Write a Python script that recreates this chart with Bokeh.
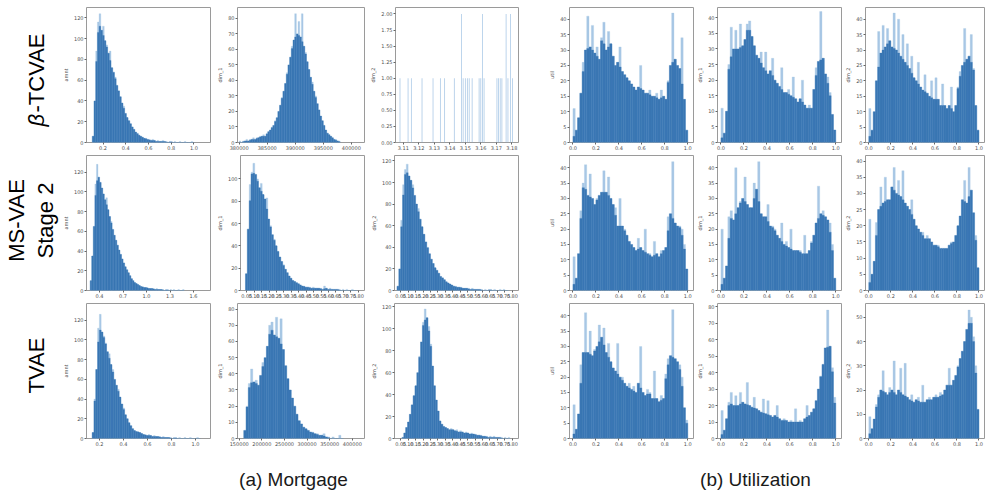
import numpy as np
from bokeh.plotting import figure
from bokeh.models import Range1d, FixedTicker, Label, Spacer
from bokeh.layouts import row, column
from bokeh.embed import file_html
from bokeh.resources import INLINE
from bokeh.core.properties import value

# ---------------------------------------------------------------- data
row_titles = ["β", "-TCVAE", "MS-VAE", "Stage 2", "TVAE"]
captions = ["(a) Mortgage", "(b) Utilization"]

mort_ylabels = ["amnt", "dim_1", "dim_2"]
util_ylabels = ["util", "dim_1", "dim_2"]

# --- Mortgage, beta-TCVAE
m1_r1_x0, m1_r1_bw = 0.105, 0.015
m1_r1_h = [6, 40, 88, 116, 124, 108, 112, 98, 94, 86, 88, 72, 68, 63, 55, 50, 44, 38, 35, 28,
           24, 21, 18, 15, 13, 10, 9, 7, 6, 5, 4, 4, 3, 3, 2, 3, 2, 1, 2, 1,
           1, 2, 1, 1, 0, 1, 1, 0, 1, 0, 0, 1, 0, 0, 1, 0, 0, 0, 1, 0]
m1_r1_ticks = [0.2, 0.4, 0.6, 0.8, 1.0]
m1_r1_labels = ["0.2", "0.4", "0.6", "0.8", "1.0"]

m2_r1_x0, m2_r1_bw = 0.0, 0.06
m2_r1_h = [1, 0, 1, 1, 2, 1, 2, 2, 3, 2, 3, 3, 4, 4, 5, 4, 6, 7, 8, 10,
           11, 14, 16, 20, 24, 29, 33, 38, 45, 50, 55, 62, 66, 83, 70, 78, 68, 83, 62, 58,
           52, 47, 42, 39, 33, 30, 25, 21, 17, 14, 11, 8, 6, 5, 4, 3, 2, 2, 1, 1]
m2_r1_ticks = [0, 1, 2, 3, 4]
m2_r1_labels = ["380000", "385000", "390000", "395000", "400000"]

m3_r1_x = [3.1079, 3.1131, 3.1152, 3.1221, 3.1292, 3.1339, 3.1367, 3.1429, 3.1475, 3.1486,
           3.1500, 3.1513, 3.1525, 3.1544, 3.1589, 3.1600, 3.1611, 3.1621, 3.1704, 3.1714,
           3.1725, 3.1736, 3.1763, 3.1775, 3.1792, 3.1804]
m3_r1_h = [1, 1, 1, 1, 1, 1, 1, 1, 2, 1, 1, 1, 1, 1, 1, 1, 2, 1, 1, 1, 1, 1, 2, 1, 2, 1]
m3_r1_ticks = [3.11, 3.12, 3.13, 3.14, 3.15, 3.16, 3.17, 3.18]
m3_r1_yticks = [0, 0.25, 0.5, 0.75, 1.0, 1.25, 1.5, 1.75, 2.0]
m3_r1_ylabels = ["0.00", "0.25", "0.50", "0.75", "1.00", "1.25", "1.50", "1.75", "2.00"]

# --- Mortgage, MS-VAE stage 2
m1_r2_x0, m1_r2_bw = 0.28, 0.02
m1_r2_h = [10, 35, 65, 108, 128, 115, 110, 104, 98, 92, 94, 82, 75, 70, 62, 56, 51, 46, 41, 37,
           32, 28, 24, 21, 18, 15, 12, 10, 8, 7, 6, 5, 4, 4, 3, 3, 3, 2, 2, 2,
           2, 1, 2, 1, 1, 1, 1, 0, 1, 1, 0, 1, 0, 1, 0, 0, 1, 0, 0, 1]
m1_r2_ticks = [0.4, 0.7, 1.0, 1.3, 1.6]
m1_r2_labels = ["0.4", "0.7", "1.0", "1.3", "1.6"]

m2_r2_x0, m2_r2_bw = 0.4, 0.15
m2_r2_h = [15, 55, 95, 106, 114, 104, 100, 92, 96, 86, 82, 83, 64, 58, 50, 46, 40, 35, 30, 26,
           23, 19, 16, 13, 11, 9, 8, 7, 6, 5, 4, 4, 3, 3, 3, 2, 3, 2, 2, 2,
           2, 1, 4, 2, 1, 2, 1, 1, 1, 1, 1, 0, 1, 0, 1, 0, 0, 1, 0, 0]

m3_r2_x0, m3_r2_bw = 0.2, 0.15
m3_r2_h = [4, 20, 65, 98, 112, 117, 106, 102, 98, 88, 80, 76, 66, 59, 52, 45, 40, 34, 29, 25,
           21, 19, 16, 13, 12, 10, 8, 7, 6, 5, 4, 4, 3, 3, 3, 2, 2, 2, 2, 1,
           2, 1, 1, 1, 1, 1, 0, 1, 0, 1, 1, 0, 1, 0, 0, 1, 0, 1, 0, 0]

dense_ticks = [0.5, 1.1, 1.7, 2.3, 2.9, 3.5, 4.1, 4.7, 5.3, 5.9, 6.5, 7.1, 7.7, 8.3, 8.9, 9.5]
dense_labels = ["0.05", "0.10", "0.15", "0.20", "0.25", "0.30", "0.35", "0.40",
                "0.45", "0.50", "0.55", "0.60", "0.65", "0.70", "0.75", "0.80"]

# --- Mortgage, TVAE
m1_r3_x0, m1_r3_bw = 0.14, 0.015
m1_r3_h = [6, 40, 70, 112, 126, 108, 104, 97, 88, 86, 75, 70, 60, 54, 50, 42, 35, 31, 24, 20,
           16, 13, 10, 8, 7, 7, 6, 5, 4, 4, 3, 4, 3, 2, 3, 2, 2, 2, 1, 2,
           1, 1, 1, 1, 0, 1, 1, 0, 1, 0, 0, 1, 0, 0, 1, 0, 0, 0, 1, 0]
m1_r3_ticks = [0.2, 0.4, 0.6, 0.8, 1.0]
m1_r3_labels = ["0.2", "0.4", "0.6", "0.8", "1.0"]

m2_r3_x0, m2_r3_bw = 0.2, 0.1
m2_r3_h = [5, 20, 34, 43, 35, 36, 33, 39, 47, 50, 57, 70, 72, 64, 75, 62, 74, 55, 45, 37,
           30, 25, 20, 15, 11, 9, 7, 6, 5, 4, 4, 3, 3, 2, 2, 3, 1, 1, 0, 1, 0, 0, 2, 0]
m2_r3_ticks = [0, 1, 2, 3, 4, 5]
m2_r3_labels = ["150000", "200000", "250000", "300000", "350000", "400000"]

m3_r3_x0, m3_r3_bw = 0.6, 0.15
m3_r3_h = [1, 5, 10, 15, 22, 31, 39, 48, 60, 75, 88, 106, 118, 110, 102, 86, 66, 48, 35, 25,
           16, 13, 11, 10, 9, 8, 9, 8, 7, 8, 6, 7, 6, 5, 6, 5, 4, 5, 4, 4,
           3, 3, 3, 2, 2, 2, 1, 2, 1, 2, 1, 1, 1, 1, 0, 1, 0, 1]

# --- Utilization (50 bins of width 0.02 on [0, 1])
u_x0, u_bw = 0.0, 0.02
u_ticks = [0.0, 0.2, 0.4, 0.6, 0.8, 1.0]
u_labels = ["0.0", "0.2", "0.4", "0.6", "0.8", "1.0"]

u1_r1_h = [11, 4, 8, 16, 26, 30, 41, 31, 38, 29, 31, 27, 34, 39, 30, 36, 32, 28, 25, 26,
           31, 23, 22, 21, 20, 19, 18, 17, 18, 25, 17, 16, 16, 17, 15, 15, 16, 14, 17, 15,
           14, 20, 25, 42, 27, 25, 24, 34, 14, 4]
u2_r1_h = [11, 3, 10, 25, 37, 30, 36, 30, 38, 31, 33, 38, 39, 34, 31, 28, 27, 29, 24, 29,
           22, 23, 27, 20, 19, 18, 24, 16, 16, 17, 15, 21, 14, 13, 14, 20, 12, 11, 12, 11,
           17, 24, 26, 42, 27, 22, 21, 16, 9, 4]
u3_r1_h = [11, 4, 10, 20, 36, 29, 38, 31, 37, 33, 31, 42, 30, 40, 28, 35, 26, 32, 24, 28,
           21, 20, 26, 18, 17, 22, 16, 15, 20, 14, 21, 14, 12, 19, 12, 11, 12, 18, 10, 12,
           18, 23, 25, 37, 27, 28, 35, 24, 12, 4]

u1_r2_h = [11, 4, 12, 26, 35, 41, 31, 38, 30, 28, 30, 31, 32, 39, 32, 37, 30, 28, 27, 21,
           30, 21, 20, 18, 16, 15, 14, 13, 17, 14, 13, 20, 12, 12, 11, 16, 12, 11, 13, 13,
           14, 24, 25, 42, 22, 21, 21, 20, 15, 7]
u2_r2_h = [20, 4, 8, 24, 26, 23, 40, 27, 29, 30, 37, 28, 27, 27, 35, 33, 42, 25, 24, 24,
           28, 21, 21, 20, 18, 17, 22, 15, 16, 14, 20, 13, 13, 13, 13, 12, 18, 12, 13, 16,
           18, 22, 34, 25, 26, 24, 23, 22, 15, 4]
u3_r2_h = [22, 5, 9, 21, 25, 32, 27, 35, 28, 28, 32, 38, 30, 34, 29, 37, 27, 26, 25, 28,
           22, 20, 19, 18, 18, 16, 17, 16, 15, 14, 14, 14, 13, 13, 13, 13, 14, 15, 15, 17,
           20, 23, 28, 34, 27, 38, 31, 24, 17, 7]

u1_r3_h = [11, 3, 8, 24, 28, 41, 28, 35, 27, 29, 30, 37, 33, 36, 28, 31, 25, 23, 22, 31,
           20, 20, 18, 17, 18, 16, 17, 15, 18, 30, 15, 14, 16, 15, 13, 22, 13, 12, 14, 13,
           21, 26, 27, 42, 26, 25, 24, 20, 10, 6]
u2_r3_h = [17, 5, 12, 22, 28, 20, 26, 20, 28, 22, 21, 34, 20, 19, 25, 18, 17, 16, 24, 15,
           23, 14, 13, 14, 20, 12, 11, 12, 11, 10, 11, 10, 18, 10, 11, 10, 12, 20, 14, 16,
           18, 23, 30, 38, 45, 55, 78, 56, 43, 25]
u3_r3_h = [9, 4, 8, 14, 18, 20, 28, 19, 18, 21, 20, 32, 18, 20, 29, 18, 31, 17, 16, 18,
           15, 16, 17, 15, 22, 15, 16, 17, 16, 17, 18, 17, 19, 18, 20, 22, 29, 22, 24, 26,
           30, 33, 36, 40, 45, 53, 50, 42, 30, 12]

# ---------------------------------------------------------------- styling
DARK = "#3a77b4"
LIGHT = "#a8c7e5"
FRAME = "#9a9a9a"
TXT = "#505050"
ROW_H = 148
TOP_GAP = 7


def base_fig(width, left, right, xr, ytop, yticks, ylabel, ytick_labels=None):
    p = figure(width=width, height=ROW_H, x_range=Range1d(*xr), y_range=Range1d(0, ytop),
               output_backend="svg", toolbar_location=None,
               min_border_left=left, min_border_right=right,
               min_border_top=0, min_border_bottom=13)
    p.xgrid.visible = False
    p.ygrid.visible = False
    p.outline_line_color = FRAME
    p.outline_line_width = 1
    for ax in (p.xaxis[0], p.yaxis[0]):
        ax.axis_line_color = None
        ax.major_tick_line_color = "#666666"
        ax.major_tick_in = 0
        ax.major_tick_out = 2
        ax.minor_tick_line_color = None
        ax.major_label_text_font_size = "5px"
        ax.major_label_text_font = "DejaVu Sans"
        ax.major_label_text_color = TXT
        ax.major_label_standoff = 1
    p.yaxis.ticker = FixedTicker(ticks=yticks)
    if ytick_labels is not None:
        p.yaxis.major_label_overrides = {t: l for t, l in zip(yticks, ytick_labels)}
    p.yaxis.axis_label = ylabel
    p.yaxis.axis_label_text_font_size = "5px"
    p.yaxis.axis_label_text_font_style = "normal"
    p.yaxis.axis_label_text_font = "DejaVu Sans"
    p.yaxis.axis_label_text_color = TXT
    p.yaxis.axis_label_standoff = 2
    return p


def add_hist(p, h, x0, bw):
    h = np.asarray(h, dtype=float)
    left = x0 + bw * np.arange(len(h))
    padded = np.concatenate([[0.0], h, [0.0]])
    body = np.minimum(h, (padded[:-2] + padded[2:]) / 2.0)
    p.quad(left=left, right=left + bw, bottom=0, top=h,
           fill_color=LIGHT, line_color=LIGHT, line_width=0.3)
    p.quad(left=left, right=left + bw, bottom=0, top=body,
           fill_color=DARK, line_color=DARK, line_width=0.3)


def set_xticks(p, ticks, labels=None):
    p.xaxis.ticker = FixedTicker(ticks=ticks)
    if labels is not None:
        p.xaxis.major_label_overrides = {t: l for t, l in zip(ticks, labels)}


def add_offset(p, xr, ytop, text="1e6"):
    p.add_layout(Label(x=xr[1], y=-ytop * 0.074, text=text, text_align="right",
                       text_baseline="middle", text_font_size="5px",
                       text_font="DejaVu Sans", text_color=TXT))


yt20 = [0, 20, 40, 60, 80, 100, 120]
yt10 = [0, 10, 20, 30, 40, 50, 60, 70, 80]
yt5 = [0, 5, 10, 15, 20, 25, 30, 35, 40]

MW, ML, MR = 154, 24, 3
UL, UR = 19, 1
U_WIDTHS = [148, 148, 143]


def mort_panels():
    out = []
    # row 1
    xr = (0.054, 1.146); p = base_fig(MW, ML, MR, xr, 130, yt20, mort_ylabels[0])
    add_hist(p, m1_r1_h, m1_r1_x0, m1_r1_bw); set_xticks(p, m1_r1_ticks, m1_r1_labels)
    add_offset(p, xr, 130)
    r1 = [p]
    xr = (-0.06, 4.47); p = base_fig(MW, ML, MR, xr, 87, yt10, mort_ylabels[1])
    add_hist(p, m2_r1_h, m2_r1_x0, m2_r1_bw); set_xticks(p, m2_r1_ticks, m2_r1_labels)
    r1.append(p)
    xr = (3.105, 3.1843); p = base_fig(MW, ML, MR, xr, 2.1, m3_r1_yticks, mort_ylabels[2],
                                        m3_r1_ylabels)
    p.vbar(x=m3_r1_x, top=m3_r1_h, width=0.00045, fill_color="#8fb7de",
           line_color=None, fill_alpha=0.85)
    set_xticks(p, m3_r1_ticks); add_offset(p, xr, 2.1)
    r1.append(p)
    out.append(r1)
    # row 2
    xr = (0.233, 1.817); p = base_fig(MW, ML, MR, xr, 137, yt20, mort_ylabels[0])
    add_hist(p, m1_r2_h, m1_r2_x0, m1_r2_bw); set_xticks(p, m1_r2_ticks, m1_r2_labels)
    r2 = [p]
    xr = (0.0, 10.0); p = base_fig(MW, ML, MR, xr, 121, yt20[:6], mort_ylabels[1])
    add_hist(p, m2_r2_h, m2_r2_x0, m2_r2_bw); set_xticks(p, dense_ticks, dense_labels)
    r2.append(p)
    p = base_fig(MW, ML, MR, xr, 125, yt20, mort_ylabels[2])
    add_hist(p, m3_r2_h, m3_r2_x0, m3_r2_bw); set_xticks(p, dense_ticks, dense_labels)
    r2.append(p)
    out.append(r2)
    # row 3
    xr = (0.093, 1.125); p = base_fig(MW, ML, MR, xr, 137, yt20, mort_ylabels[0])
    add_hist(p, m1_r3_h, m1_r3_x0, m1_r3_bw); set_xticks(p, m1_r3_ticks, m1_r3_labels)
    add_offset(p, xr, 137)
    r3 = [p]
    xr = (-0.077, 5.54); p = base_fig(MW, ML, MR, xr, 83.5, yt10, mort_ylabels[1])
    add_hist(p, m2_r3_h, m2_r3_x0, m2_r3_bw); set_xticks(p, m2_r3_ticks, m2_r3_labels)
    r3.append(p)
    xr = (0.0, 10.0); p = base_fig(MW, ML, MR, xr, 123, yt20, mort_ylabels[2])
    add_hist(p, m3_r3_h, m3_r3_x0, m3_r3_bw); set_xticks(p, dense_ticks, dense_labels)
    r3.append(p)
    out.append(r3)
    return out


def util_panels():
    specs = [
        [(u1_r1_h, 43.8, yt5), (u2_r1_h, 43.3, yt5), (u3_r1_h, 43.8, yt5)],
        [(u1_r2_h, 44.0, yt5), (u2_r2_h, 44.0, yt5), (u3_r2_h, 41.7, yt5)],
        [(u1_r3_h, 44.0, yt5), (u2_r3_h, 82.0, yt10), (u3_r3_h, 55.7, [0, 10, 20, 30, 40, 50])],
    ]
    out = []
    for r in specs:
        figs = []
        for j, (h, top, yt) in enumerate(r):
            p = base_fig(U_WIDTHS[j], UL, UR, (-0.03, 1.05), top, yt, util_ylabels[j])
            add_hist(p, h, u_x0, u_bw)
            set_xticks(p, u_ticks, u_labels)
            figs.append(p)
        out.append(figs)
    return out


M = mort_panels()
U = util_panels()

rows = []
for r in range(3):
    rows.append(row(*M[r], Spacer(width=25, height=ROW_H), *U[r]))
grid = column(Spacer(width=10, height=TOP_GAP), *rows)

# ---- row titles
LAB_H = TOP_GAP + 3 * ROW_H
lab = figure(width=59, height=LAB_H, x_range=Range1d(0, 59), y_range=Range1d(0, LAB_H),
             x_axis_type=None, y_axis_type=None, output_backend="svg", toolbar_location=None,
             min_border=0)
lab.grid.visible = False
lab.outline_line_color = None
common = dict(angle=np.pi / 2, text_baseline="middle", text_font=value("Liberation Sans"),
              text_font_size="22px", text_color="black")
lab.text(x=[36], y=[325], text=[row_titles[0]], text_align="left",
         text_font_style="italic", **common)
lab.text(x=[36], y=[339], text=[row_titles[1]], text_align="left", **common)
lab.text(x=[16, 45], y=[231, 231], text=[row_titles[2], row_titles[3]], text_align="center",
         **common)
lab.text(x=[36], y=[86], text=[row_titles[4]], text_align="center", **common)

# ---- captions
CAP_W, CAP_H = 985, 42
cap = figure(width=CAP_W, height=CAP_H, x_range=Range1d(0, CAP_W), y_range=Range1d(0, CAP_H),
             x_axis_type=None, y_axis_type=None, output_backend="svg", toolbar_location=None,
             min_border=0)
cap.grid.visible = False
cap.outline_line_color = None
cap.text(x=[293, 755], y=[14, 14], text=captions, text_align="center", text_baseline="middle",
         text_font=value("Liberation Sans"), text_font_size="19px", text_color="#1a1a1a")

layout = column(row(lab, grid), cap)

open("out.html", "w").write(file_html(layout, INLINE))
